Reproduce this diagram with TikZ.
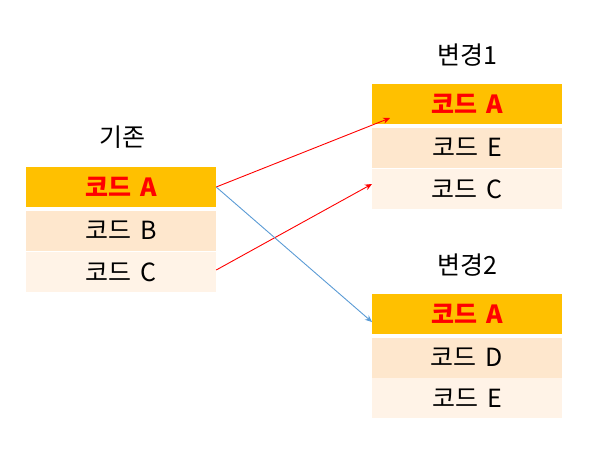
\documentclass[tikz,border=0pt]{standalone}
\usepackage{fontspec}
\setmainfont{Noto Sans CJK KR}[WordSpace={1.6}]
\usepackage{tikz}
\usetikzlibrary{calc,arrows.meta}
\definecolor{gold}{HTML}{FFC000}
\definecolor{peach}{HTML}{FEE7CD}
\definecolor{cream}{HTML}{FFF3E7}
\definecolor{red}{HTML}{FF0000}
\definecolor{blue}{HTML}{5B9BD5}
\tikzset{
  row/.style={minimum width=190pt, minimum height=40pt, inner sep=0pt, font=\fontsize{25}{30}\selectfont},
  toprow/.style={row, fill=gold, text=red, font=\fontsize{25}{30}\selectfont\bfseries},
  midrow/.style={row, fill=peach},
  lowrow/.style={row, fill=cream},
  title/.style={font=\fontsize{25}{30}\selectfont},
  redarr/.style={draw=red, line width=0.9pt, -{Stealth[length=7pt,width=6pt]}},
  bluearr/.style={draw=blue, line width=0.9pt, -{Stealth[length=7pt,width=6pt]}}
}

\begin{document}
\begin{tikzpicture}[x=1pt,y=-1pt]
  \useasboundingbox (0,0) rectangle (605,467);

  % old version
  \node[title] (old) at (122,137) {기존};
  \node[toprow] (a1) at (121,187) {코드 A};
  \node[midrow] (a2) at (121,230.5) {코드 B};
  \node[lowrow] (a3) at (121,272) {코드 C};

  % change 1
  \node[title] (new1) at (467,55) {변경1};
  \node[toprow] (b1) at (467,104) {코드 A};
  \node[midrow] (b2) at (467,147.5) {코드 E};
  \node[lowrow] (b3) at (467,189) {코드 C};

  % change 2
  \node[title] (new2) at (467,265) {변경2};
  \node[toprow] (c1) at (467,313.5) {코드 A};
  \node[midrow] (c2) at (467,357.5) {코드 D};
  \node[lowrow] (c3) at (467,398) {코드 E};

  \coordinate (tb1) at (390,118);
  \coordinate (tb3) at (372,184);
  \coordinate (tc1) at (372,322);

  \draw[redarr] (a1.east) -- (tb1);
  \draw[redarr] ($(a3.east)+(0,-2)$) -- (tb3);
  \draw[bluearr] (a1.east) -- (tc1);
\end{tikzpicture}
\end{document}
